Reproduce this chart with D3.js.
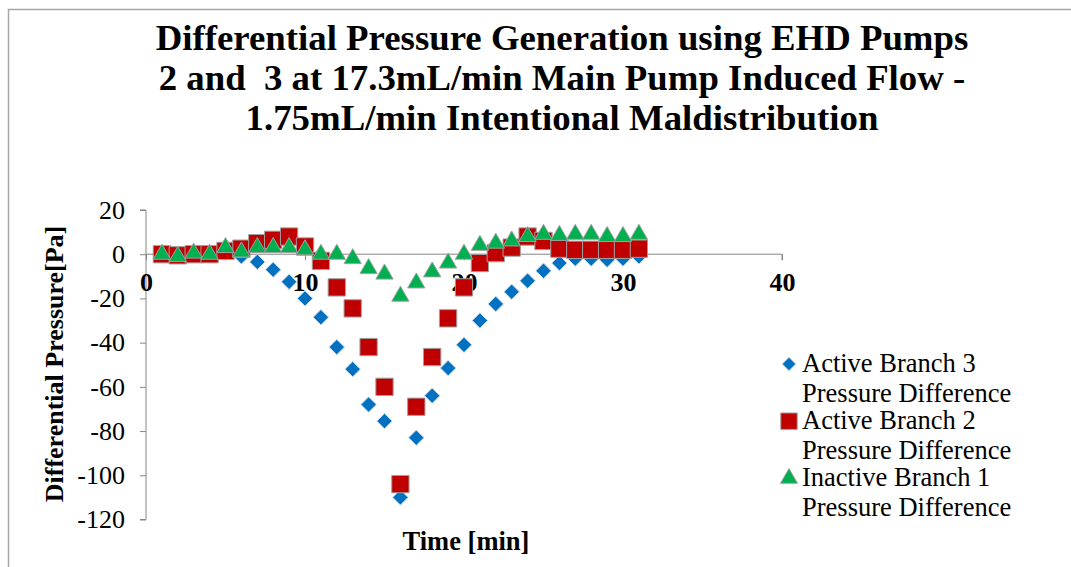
<!DOCTYPE html>
<html><head><meta charset="utf-8">
<script src="https://cdn.jsdelivr.net/npm/d3@7"></script>
<style>
html,body{margin:0;padding:0;background:#fff;}
svg{display:block;}
</style></head>
<body>
<svg id="chart" width="1071" height="567"></svg>
<script>
const time = d3.range(1, 32);
const branch3 = [0,-0.5,0,0,0.5,-1,-3.5,-7,-12.5,-20,-28.5,-42,-52,-68,-75.5,-110,-83,-64,-51.5,-41,-30,-22.5,-17,-12,-7.5,-4,-2,-2,-2.5,-2,-1];
const branch2 = [0,-0.5,0,0,1.5,2.5,5,6.5,8,3.5,-3,-15,-24.5,-42,-60,-104,-69,-46.5,-29,-15,-4,0.5,3,8,6,2.5,2,2,2,2,2.5];
const branch1 = [0,-1,0.5,0,3,1,3,3,3,2,0,0,-2,-6.5,-9,-19,-13,-8,-4,0,4,5,6,8,9,8.5,9,9,8,8,9];
const xTicks = [0,10,20,30,40];
const yTicks = [20,0,-20,-40,-60,-80,-100,-120];
const titleLines = ["Differential Pressure Generation using EHD Pumps","2 and  3 at 17.3mL/min Main Pump Induced Flow -","1.75mL/min Intentional Maldistribution"];
const legendLabels = [["Active Branch 3","Pressure Difference"],["Active Branch 2","Pressure Difference"],["Inactive Branch 1","Pressure Difference"]];

const FONT = "Liberation Serif, Times New Roman, serif";
const svg = d3.select("#chart");
// outer frame
svg.append("rect").attr("x",8.5).attr("y",9.5).attr("width",1200).attr("height",700)
  .attr("fill","none").attr("stroke","#a6a6a6").attr("stroke-width",1.5);

const x = d3.scaleLinear().domain([0,40]).range([146,782]);
const y = d3.scaleLinear().domain([-120,20]).range([519.5,210]);
const axisColor = "#868686";

// title
svg.append("g").selectAll("text").data(titleLines).join("text")
  .attr("x",562).attr("y",(d,i)=>50+i*40)
  .attr("text-anchor","middle").style("font-family",FONT).style("font-size","36.8px").style("font-weight","bold")
  .style("white-space","pre").attr("xml:space","preserve")
  .text(d=>d);

// y axis
const yAxis = d3.axisLeft(y).tickValues(yTicks).tickSize(6).tickPadding(15).tickFormat(d3.format("d"));
const gy = svg.append("g").attr("transform",`translate(${x(0)},0)`).call(yAxis);
gy.select(".domain").attr("stroke",axisColor).attr("d",`M-6,${y(20)}H0V${y(-120)}H-6`);
gy.selectAll(".tick line").attr("stroke",axisColor);
gy.selectAll(".tick text").style("font-family",FONT).style("font-size","26px").attr("fill","#000")
  .text(d=>d<0?"-"+Math.abs(d):d);

// x axis at y=0
const xAxis = d3.axisBottom(x).tickValues(xTicks).tickSize(6).tickPadding(12).tickFormat(d3.format("d"));
const gx = svg.append("g").attr("transform",`translate(0,${y(0)})`).call(xAxis);
gx.select(".domain").attr("stroke",axisColor).attr("d",`M${x(0)},0H${x(40)}V6`);
gx.selectAll(".tick line").attr("stroke",axisColor);
gx.selectAll(".tick text").style("font-family",FONT).style("font-size","26px").style("font-weight","bold").attr("fill","#000");

// axis titles
svg.append("text").attr("transform",`translate(63,364) rotate(-90)`)
  .attr("text-anchor","middle").style("font-family",FONT).style("font-size","26px").style("font-weight","bold").text("Differential Pressure[Pa]");
svg.append("text").attr("x",466).attr("y",549.5)
  .attr("text-anchor","middle").style("font-family",FONT).style("font-size","26.5px").style("font-weight","bold").text("Time [min]");

// markers
const series = [
  {vals:branch3, color:"#0070C0", sym:d3.symbolDiamond2, size:150, lsize:115, stroke:"#c8d4e4"},
  {vals:branch2, color:"#C00000", sym:d3.symbolSquare, size:300, lsize:270, stroke:"#a0a0a0"},
  {vals:branch1, color:"#00B050", sym:d3.symbolTriangle, size:130, lsize:125, stroke:"#a0a0a0"}
];
series.forEach(s=>{
  svg.append("g").selectAll("path").data(time.map((t,i)=>[t,s.vals[i]])).join("path")
    .attr("transform",d=>`translate(${x(d[0])},${y(d[1])})`)
    .attr("d",d3.symbol().type(s.sym).size(s.size))
    .attr("fill",s.color).attr("stroke",s.stroke).attr("stroke-width",1);
});

// legend
const lg = svg.append("g");
series.forEach((s,i)=>{
  const by = 372 + i*57.2;
  lg.append("path").attr("transform",`translate(789,${by-8})`)
    .attr("d",d3.symbol().type(s.sym).size(s.lsize))
    .attr("fill",s.color).attr("stroke",s.stroke).attr("stroke-width",1);
  lg.append("text").attr("x",802).attr("y",by).style("font-family",FONT).style("font-size","26.5px").text(legendLabels[i][0]);
  lg.append("text").attr("x",802).attr("y",by+29.5).style("font-family",FONT).style("font-size","26.5px").text(legendLabels[i][1]);
});
</script>
</body></html>
